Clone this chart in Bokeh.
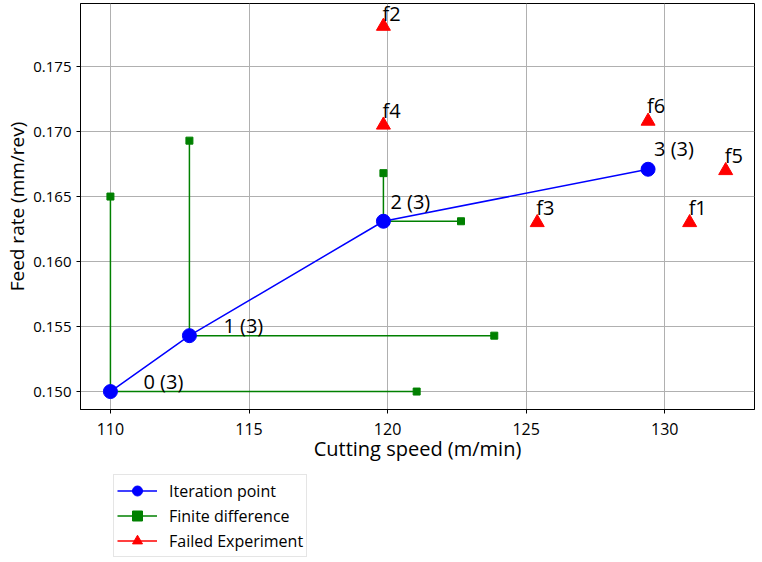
from bokeh.plotting import figure
from bokeh.layouts import column
from bokeh.models import (ColumnDataSource, LabelSet, Legend, LegendItem,
                          NumeralTickFormatter, FixedTicker, Range1d)
from bokeh.core.properties import value
from bokeh.embed import file_html
from bokeh.resources import INLINE

# ---- data ----
iter_x = [110.0, 112.85, 119.85, 129.4]
iter_y = [0.1500, 0.1543, 0.1631, 0.1671]
iter_labels = ["0 (3)", "1 (3)", "2 (3)", "3 (3)"]

fd_vert_y = [0.1650, 0.1693, 0.1668]    # finite-difference step in feed rate
fd_horiz_x = [121.05, 123.85, 122.65]   # finite-difference step in cutting speed

fail_x = [130.9, 119.85, 125.4, 119.85, 132.2, 129.4]
fail_y = [0.1630, 0.1781, 0.1630, 0.1705, 0.1670, 0.1708]
fail_labels = ["f1", "f2", "f3", "f4", "f5", "f6"]

x_ticks = [110, 115, 120, 125, 130]
y_ticks = [0.150, 0.155, 0.160, 0.165, 0.170, 0.175]

legend_labels = ["Iteration point", "Finite difference", "Failed Experiment"]

# label offsets (screen px)
iter_dx = [33, 34, 7, 6]
iter_dy = [3, 3, 12, 13]
fail_dy = [8, 5, 8, 7, 8, 8]

FONT = "Open Sans"
BLUE, GREEN, RED = "#0000ff", "#008000", "#ff0000"

p = figure(width=762, height=469, output_backend="svg", toolbar_location=None,
           x_range=Range1d(108.92, 133.24), y_range=Range1d(0.14862, 0.17985),
           min_border_left=80, min_border_right=8, min_border_top=3,
           min_border_bottom=60)
p.outline_line_color = "black"
p.outline_line_width = 1
p.outline_line_alpha = 1

for ax in (p.xaxis, p.yaxis):
    ax.major_tick_in = 0
    ax.major_tick_out = 4
    ax.minor_tick_line_color = None
    ax.axis_line_color = "black"
    ax.major_tick_line_color = "black"
    ax.major_label_text_font = FONT
    ax.major_label_text_color = "black"
    ax.axis_label_text_font = FONT
    ax.axis_label_text_font_style = "normal"
    ax.axis_label_text_color = "black"

p.xaxis.major_label_text_font_size = "16px"
p.yaxis.major_label_text_font_size = "15px"
p.xaxis.axis_label_text_font_size = "20px"
p.yaxis.axis_label_text_font_size = "19px"
p.xaxis.ticker = FixedTicker(ticks=x_ticks)
p.yaxis.ticker = FixedTicker(ticks=y_ticks)
p.yaxis.formatter = NumeralTickFormatter(format="0.000")
p.xaxis.axis_label = "Cutting speed (m/min)"
p.yaxis.axis_label = "Feed rate (mm/rev)"
p.xaxis.major_label_standoff = 9
p.yaxis.major_label_standoff = 5
p.xaxis.axis_label_standoff = -3
p.yaxis.axis_label_standoff = 0

p.grid.grid_line_color = "#b0b0b0"
p.grid.grid_line_width = 1

# finite differences
fd_xs = [[iter_x[i], iter_x[i], fd_horiz_x[i]] for i in range(len(fd_vert_y))]
fd_ys = [[fd_vert_y[i], iter_y[i], iter_y[i]] for i in range(len(fd_vert_y))]
p.multi_line(fd_xs, fd_ys, line_color=GREEN, line_width=1.5)
sq_x = iter_x[:3] + fd_horiz_x
sq_y = fd_vert_y + iter_y[:3]
p.scatter(sq_x, sq_y, marker="square", size=7, fill_color=GREEN, line_color=GREEN)

# iteration path
p.line(iter_x, iter_y, line_color=BLUE, line_width=1.5)
p.scatter(iter_x, iter_y, marker="circle", size=14, fill_color=BLUE, line_color=BLUE)

# failed experiments
p.scatter(fail_x, fail_y, marker="triangle", size=14, fill_color=RED, line_color=RED)

# labels
it_src = ColumnDataSource(dict(x=iter_x, y=iter_y, t=iter_labels, dx=iter_dx, dy=iter_dy))
p.add_layout(LabelSet(x="x", y="y", text="t", source=it_src, x_offset="dx", y_offset="dy",
                      text_font=value(FONT), text_font_size="20px", text_color="black",
                      text_baseline="alphabetic"))
fl_src = ColumnDataSource(dict(x=fail_x, y=fail_y, t=fail_labels, dy=fail_dy))
p.add_layout(LabelSet(x="x", y="y", text="t", source=fl_src, x_offset=-1, y_offset="dy",
                      text_font=value(FONT), text_font_size="20px", text_color="black",
                      text_baseline="alphabetic"))

# ---- legend panel (separate figure under the plot; its ranges hide the sample glyphs) ----
lg = figure(width=762, height=90, output_backend="svg", toolbar_location=None,
            x_axis_type=None, y_axis_type=None, x_range=Range1d(0, 1), y_range=Range1d(0, 1),
            min_border_left=80, min_border_right=8, min_border_top=0, min_border_bottom=0)
lg.outline_line_color = None
lg.grid.grid_line_color = None
r1l = lg.line(iter_x, iter_y, line_color=BLUE, line_width=1.5)
r1m = lg.scatter(iter_x, iter_y, marker="circle", fill_color=BLUE, line_color=BLUE)
r2l = lg.line(sq_x, sq_y, line_color=GREEN, line_width=1.5)
r2m = lg.scatter(sq_x, sq_y, marker="square", fill_color=GREEN, line_color=GREEN)
r3l = lg.line(fail_x, fail_y, line_color=RED, line_width=1.5)
r3m = lg.scatter(fail_x, fail_y, marker="triangle", fill_color=RED, line_color=RED)

legend = Legend(items=[
    LegendItem(label=legend_labels[0], renderers=[r1l, r1m]),
    LegendItem(label=legend_labels[1], renderers=[r2l, r2m]),
    LegendItem(label=legend_labels[2], renderers=[r3l, r3m]),
], location=(33, 2))
legend.label_text_font = FONT
legend.label_text_font_size = "16px"
legend.label_text_color = "black"
legend.glyph_width = 40
legend.glyph_height = 25
legend.label_height = 25
legend.spacing = 0
legend.padding = 3
legend.margin = 0
legend.label_standoff = 12
legend.border_line_color = "#cccccc"
legend.border_line_width = 1
legend.background_fill_alpha = 1
lg.add_layout(legend, "center")

layout = column(p, lg, spacing=0)
open("out.html", "w").write(file_html(layout, INLINE))
